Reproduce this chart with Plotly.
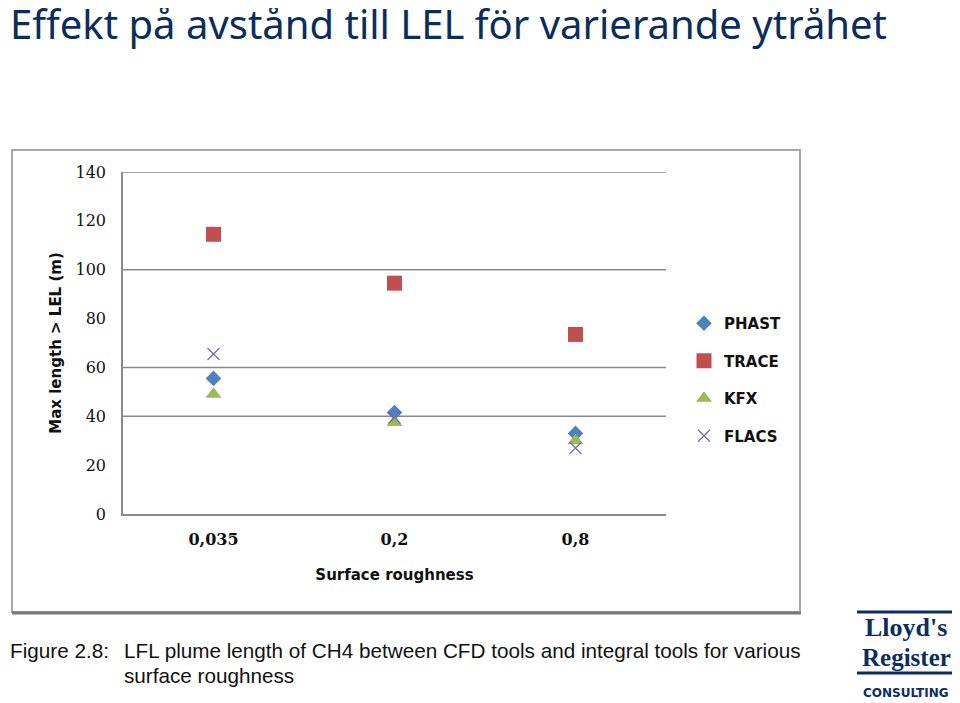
import plotly.graph_objects as go

categories = ["0,035", "0,2", "0,8"]
phast = [55.5, 41.5, 33]
trace_vals = [114.5, 94.5, 73.5]
kfx = [49, 37.5, 30]
flacs = [65.5, 39.5, 27]
y_ticks = [0, 20, 40, 60, 80, 100, 120, 140]
grid_values = [40, 60, 100, 140]

# page body has an 8px margin, so the figure is drawn 8px right/down
OFF = 8
W, H = 960 - OFF, 703 - OFF
L, R, T, B = 123, 666, 172, 514  # target-pixel plot area


def px(x):
    return (x - L) / (R - L)


def py(y):
    return (B - y) / (B - T)


fig = go.Figure()
series = [
    ("PHAST", phast, dict(symbol="diamond", size=12, color="#4f81bd")),
    ("TRACE", trace_vals, dict(symbol="square", size=15, color="#c0504d")),
    ("KFX", kfx, dict(symbol="triangle-up", size=14, color="#9bbb59")),
    ("FLACS", flacs, dict(symbol="x-thin", size=12, color="#8064a2",
                          line=dict(width=1.2, color="#8064a2"))),
]
for i, (name, vals, mk) in enumerate(series):
    fig.add_trace(go.Scatter(x=categories, y=vals, mode="markers", name=f"<b>{name}</b>",
                             marker=mk, legendgroup=f"g{i}"))

shapes = []
for g in grid_values:
    shapes.append(dict(type="line", xref="paper", yref="y", x0=0, x1=1, y0=g, y1=g,
                       line=dict(color="#8a8a8a", width=1.5), layer="below"))
# chart frame
shapes.append(dict(type="rect", xref="paper", yref="paper",
                   x0=px(12), x1=px(800), y0=py(612), y1=py(150),
                   line=dict(color="#a6a6a6", width=2), layer="below"))
shapes.append(dict(type="line", xref="paper", yref="paper",
                   x0=px(12), x1=px(801), y0=py(613), y1=py(613),
                   line=dict(color="#777777", width=3)))
# logo lines
shapes.append(dict(type="line", xref="paper", yref="paper",
                   x0=px(857), x1=px(955), y0=py(612), y1=py(612),
                   line=dict(color="#0d2d5e", width=3)))
shapes.append(dict(type="line", xref="paper", yref="paper",
                   x0=px(857), x1=px(955), y0=py(673), y1=py(673),
                   line=dict(color="#0d2d5e", width=3)))

cap_font = dict(family="Liberation Sans", size=20.7, color="#111")
annotations = [
    dict(text="Effekt på avstånd till LEL för varierande ytråhet", x=px(OFF), y=py(23),
         xref="paper", yref="paper", xanchor="left", yanchor="middle", showarrow=False,
         font=dict(family="Noto Sans", size=40, color="#0b2d5b")),
    dict(text="Figure 2.8:", x=px(8), y=py(650), xref="paper", yref="paper",
         xanchor="left", yanchor="middle", showarrow=False, font=cap_font),
    dict(text="LFL plume length of CH4 between CFD tools and integral tools for various",
         x=px(122), y=py(650), xref="paper", yref="paper",
         xanchor="left", yanchor="middle", showarrow=False, font=cap_font),
    dict(text="surface roughness", x=px(122), y=py(675), xref="paper", yref="paper",
         xanchor="left", yanchor="middle", showarrow=False, font=cap_font),
    dict(text="<b>Lloyd's</b>", x=px(906), y=py(627), xref="paper", yref="paper",
         xanchor="center", yanchor="middle", showarrow=False,
         font=dict(family="Liberation Serif", size=26, color="#0d2d5e")),
    dict(text="<b>Register</b>", x=px(906), y=py(657), xref="paper", yref="paper",
         xanchor="center", yanchor="middle", showarrow=False,
         font=dict(family="Liberation Serif", size=25, color="#0d2d5e")),
    dict(text="<b>CONSULTING</b>", x=px(906), y=py(693), xref="paper", yref="paper",
         xanchor="center", yanchor="middle", showarrow=False,
         font=dict(family="DejaVu Sans", size=12, color="#0d2d5e")),
]

fig.update_layout(
    width=W, height=H,
    margin=dict(l=L - OFF, r=960 - R, t=T - OFF, b=703 - B),
    paper_bgcolor="white", plot_bgcolor="white",
    shapes=shapes, annotations=annotations,
    showlegend=True,
    legend=dict(x=px(684), y=py(307), xanchor="left", yanchor="top",
                font=dict(family="DejaVu Sans", size=15, color="#111"),
                tracegroupgap=15, itemwidth=30, bgcolor="rgba(0,0,0,0)"),
    xaxis=dict(type="category", showgrid=False, showline=True, linecolor="#8a8a8a",
               linewidth=1.5, ticks="", range=[-0.5, 2.5],
               ticklabelstandoff=10,
               tickfont=dict(family="DejaVu Serif", size=16, color="#111"),
               title=dict(text="<b>Surface roughness</b>", standoff=22,
                          font=dict(family="DejaVu Sans", size=15, color="#111"))),
    yaxis=dict(range=[0, 140], tickvals=y_ticks, showgrid=False, showline=True,
               linecolor="#8a8a8a", linewidth=1.5, ticks="", zeroline=False,
               tickfont=dict(family="DejaVu Serif", size=16, color="#111"),
               ticklabelstandoff=12,
               title=dict(text="<b>Max length > LEL (m)</b>", standoff=10,
                          font=dict(family="DejaVu Sans", size=15, color="#111"))),
)
fig.update_xaxes(tickprefix="<b>", ticksuffix="</b>")
fig.update_yaxes(tickprefix="<b>", ticksuffix="</b>")

fig.write_html("out.html")
